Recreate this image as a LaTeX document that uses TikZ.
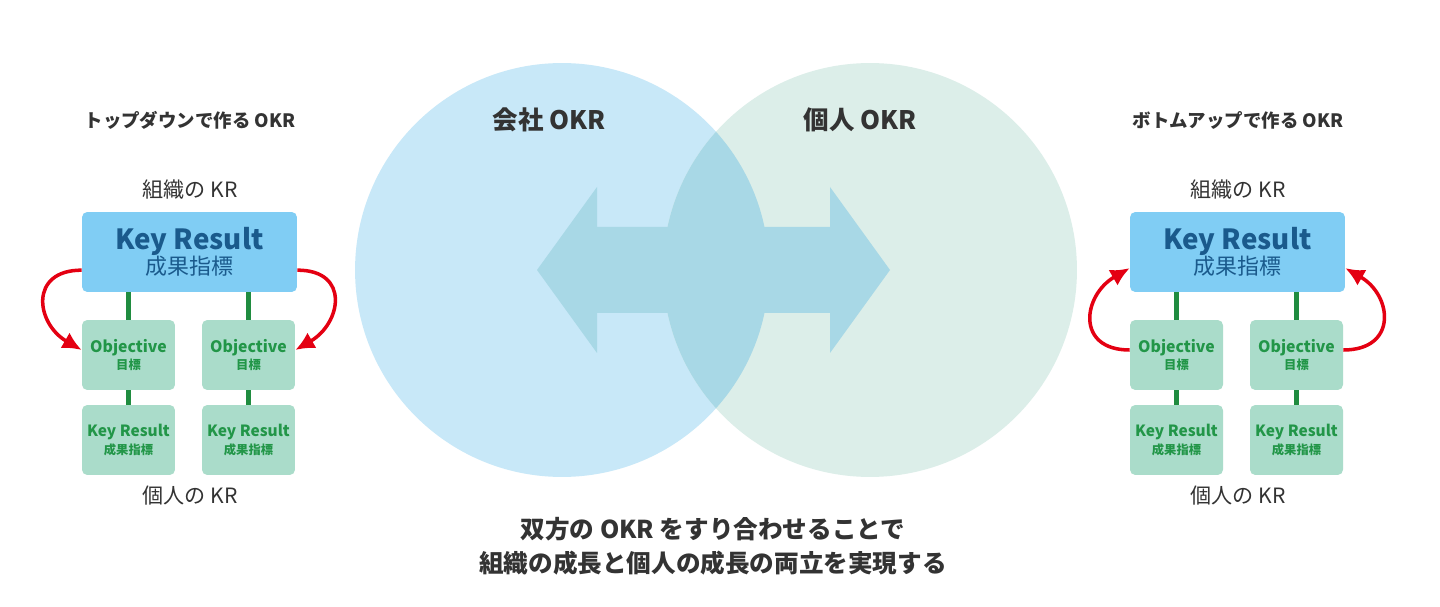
\documentclass[tikz,border=0pt]{standalone}
\usepackage{fontspec}
\setmainfont{Noto Sans CJK JP}
\usetikzlibrary{arrows.meta,positioning,calc}
\definecolor{OkrInk}{RGB}{51,51,51}
\definecolor{OkrBlue}{RGB}{128,205,244}
\definecolor{OkrNavy}{RGB}{26,90,140}
\definecolor{OkrMint}{RGB}{170,220,202}
\definecolor{OkrGreen}{RGB}{34,150,72}
\definecolor{OkrLine}{RGB}{32,140,64}
\definecolor{OkrRed}{RGB}{228,0,18}
\definecolor{OkrSky}{RGB}{200,232,248}
\definecolor{OkrPale}{RGB}{220,238,233}
\definecolor{OkrLens}{RGB}{168,216,230}
\tikzset{
  okr/krbox/.style={
    fill=OkrBlue,
    rounded corners=3pt,
    align=center,
    text=OkrNavy,
    minimum width=4.3cm,
    minimum height=1.6cm,
    inner sep=0pt
  },
  okr/smallbox/.style={
    fill=OkrMint,
    rounded corners=3pt,
    align=center,
    text=OkrGreen,
    minimum width=1.86cm,
    minimum height=1.4cm,
    inner sep=0pt,
    font=\bfseries
  },
  okr/link/.style={draw=OkrLine, line width=2.5pt},
  okr/loop/.style={-{Latex[length=3.8mm,width=3.6mm]}, draw=OkrRed, line width=2pt},
  okr/title/.style={font=\fontsize{10.5}{12}\selectfont\bfseries, text=OkrInk},
  okr/level/.style={font=\fontsize{12}{14}\selectfont, text=OkrInk},
  okr/venn/.style={font=\fontsize{14.5}{17}\selectfont\bfseries, text=OkrInk},
  okr/message/.style={font=\fontsize{14}{19.5}\selectfont\bfseries, text=OkrInk, align=center}
}
\newcommand{\krtext}{{\fontsize{15.8}{17}\selectfont\bfseries Key Result}\\[-1pt]{\fontsize{12.5}{15}\selectfont 成果指標}}
\newcommand{\objtext}{{\fontsize{9}{10}\selectfont Objective}\\[-2pt]{\fontsize{7}{9}\selectfont 目標}}
\newcommand{\subtext}{{\fontsize{8.8}{10}\selectfont Key Result}\\[-2pt]{\fontsize{7}{9}\selectfont 成果指標}}

\begin{document}
\begin{tikzpicture}[x=0.02cm,y=-0.02cm]
  \fill[white] (0,0) rectangle (1440,607);
  \useasboundingbox (0,0) rectangle (1440,607);

  \fill[OkrSky] (562,270) circle[radius=4.14cm];
  \fill[OkrPale] (870,270) circle[radius=4.14cm];
  \begin{scope}
    \clip (562,270) circle[radius=4.14cm];
    \fill[OkrLens] (870,270) circle[radius=4.14cm];
  \end{scope}
  \fill[OkrLens] (537,270) -- (597,187) -- (597,227) -- (830,227) -- (830,187) -- (890,270)
    -- (830,353) -- (830,313) -- (597,313) -- (597,353) -- cycle;
  \node[okr/venn] (vennA) at (549,120) {会社 OKR};
  \node[okr/venn] (vennB) at (860,120) {個人 OKR};

  \node[okr/title] (ttlA) at (190,120) {トップダウンで作る OKR};
  \node[okr/level] (orgA) at (190,190) {組織の KR};
  \node[okr/krbox] (krA) at (189.5,252) {\krtext};
  \node[okr/smallbox] (objA1) at (128.5,355) {\objtext};
  \node[okr/smallbox] (objA2) at (248.5,355) {\objtext};
  \node[okr/smallbox] (subA1) at (128.5,440) {\subtext};
  \node[okr/smallbox] (subA2) at (248.5,440) {\subtext};
  \node[okr/level] (indA) at (190,496) {個人の KR};
  \draw[okr/link] (krA.south -| objA1.north) -- (objA1.north);
  \draw[okr/link] (krA.south -| objA2.north) -- (objA2.north);
  \draw[okr/link] (objA1.south) -- (subA1.north);
  \draw[okr/link] (objA2.south) -- (subA2.north);
  \draw[okr/loop] ($(krA.west)!0.45!(krA.south west)$) to[out=180,in=150,looseness=1.7] ([yshift=0.1cm]objA1.west);
  \draw[okr/loop] ($(krA.east)!0.45!(krA.south east)$) to[out=0,in=30,looseness=1.7] ([yshift=0.1cm]objA2.east);

  \node[okr/title] (ttlB) at (1238,120) {ボトムアップで作る OKR};
  \node[okr/level] (orgB) at (1238,190) {組織の KR};
  \node[okr/krbox] (krB) at (1237.5,252) {\krtext};
  \node[okr/smallbox] (objB1) at (1176.5,355) {\objtext};
  \node[okr/smallbox] (objB2) at (1296.5,355) {\objtext};
  \node[okr/smallbox] (subB1) at (1176.5,440) {\subtext};
  \node[okr/smallbox] (subB2) at (1296.5,440) {\subtext};
  \node[okr/level] (indB) at (1238,496) {個人の KR};
  \draw[okr/link] (krB.south -| objB1.north) -- (objB1.north);
  \draw[okr/link] (krB.south -| objB2.north) -- (objB2.north);
  \draw[okr/link] (objB1.south) -- (subB1.north);
  \draw[okr/link] (objB2.south) -- (subB2.north);
  \draw[okr/loop] ([yshift=0.1cm]objB1.west) to[out=180,in=210,looseness=1.7] ($(krB.west)!0.4!(krB.south west)$);
  \draw[okr/loop] ([yshift=0.1cm]objB2.east) to[out=0,in=-30,looseness=1.7] ($(krB.east)!0.4!(krB.south east)$);

  \node[okr/message] (msg) at (713,546) {双方の OKR をすり合わせることで\\組織の成長と個人の成長の両立を実現する};
\end{tikzpicture}
\end{document}
